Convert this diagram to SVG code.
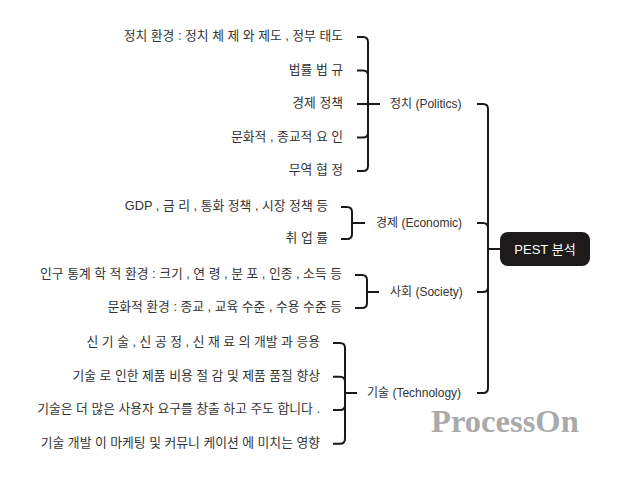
<svg xmlns="http://www.w3.org/2000/svg" width="620" height="482" viewBox="0 0 620 482">
<style>
.t{font-family:"Liberation Sans","Noto Sans CJK KR",sans-serif;font-size:12px;fill:#333;}
.it{text-anchor:end;font-size:12.8px;}
.c{fill:none;stroke:#1a1a1a;stroke-width:2;stroke-linecap:butt;}
.root{font-family:"Liberation Sans","Noto Sans CJK KR",sans-serif;font-size:13px;fill:#fff;text-anchor:middle;}
.wm{font-family:"Liberation Serif",serif;font-weight:bold;font-size:32.6px;fill:#aaaaaa;}
</style>
<rect width="620" height="482" fill="#fff"/>
<g id="connectors">
  <path class="c" d="M477,104 H483 Q488,104 488,109 V249"/>
  <path class="c" d="M477,223 H483 Q488,223 488,228 V249"/>
  <path class="c" d="M477,292 H483 Q488,292 488,287 V249"/>
  <path class="c" d="M477,393 H483 Q488,393 488,388 V249"/>
  <path class="c" d="M488,249 H500"/>
  <path class="c" d="M357,37 H363 Q368,37 368,42 V104"/>
  <path class="c" d="M357,70.5 H363 Q368,70.5 368,75.5 V104"/>
  <path class="c" d="M357,104 H380"/>
  <path class="c" d="M357,137.5 H363 Q368,137.5 368,132.5 V104"/>
  <path class="c" d="M357,171 H363 Q368,171 368,166 V104"/>
  <path class="c" d="M341,207 H347 Q352,207 352,212 V223"/>
  <path class="c" d="M341,239 H347 Q352,239 352,234 V223"/>
  <path class="c" d="M352,223 H365"/>
  <path class="c" d="M355,275 H362 Q367,275 367,280 V292"/>
  <path class="c" d="M355,308 H362 Q367,308 367,303 V292"/>
  <path class="c" d="M367,292 H379"/>
  <path class="c" d="M333,343 H340 Q345,343 345,348 V393"/>
  <path class="c" d="M333,376.7 H340 Q345,376.7 345,381.7 V393"/>
  <path class="c" d="M333,410 H340 Q345,410 345,405 V393"/>
  <path class="c" d="M333,443.7 H340 Q345,443.7 345,438.7 V393"/>
  <path class="c" d="M345,393 H357"/>
</g>
<g id="root">
  <rect x="500" y="232" width="90" height="34" rx="8" fill="#1c1a1a"/>
  <text class="root" x="545" y="253.5">PEST 분석</text>
</g>
<g id="politics">
  <text class="t" x="390" y="108">정치 (Politics)</text>
</g>
<g id="politics-items">
  <text class="t it" x="343" y="40">정치 환경 : 정치 체 제 와 제도 , 정부 태도</text>
  <text class="t it" x="343" y="73.5">법률 법 규</text>
  <text class="t it" x="343" y="107">경제 정책</text>
  <text class="t it" x="343" y="140.5">문화적 , 종교적 요 인</text>
  <text class="t it" x="343" y="174">무역 협 정</text>
</g>
<g id="economic">
  <text class="t" x="376" y="227">경제 (Economic)</text>
</g>
<g id="economic-items">
  <text class="t it" x="328" y="210">GDP , 금 리 , 통화 정책 , 시장 정책 등</text>
  <text class="t it" x="328" y="242">취 업 률</text>
</g>
<g id="society">
  <text class="t" x="390" y="296">사회 (Society)</text>
</g>
<g id="society-items">
  <text class="t it" x="342" y="278">인구 통계 학 적 환경 : 크기 , 연 령 , 분 포 , 인종 , 소득 등</text>
  <text class="t it" x="342" y="311">문화적 환경 : 종교 , 교육 수준 , 수용 수준 등</text>
</g>
<g id="technology">
  <text class="t" x="367" y="397">기술 (Technology)</text>
</g>
<g id="technology-items">
  <text class="t it" x="320" y="346">신 기 술 , 신 공 정 , 신 재 료 의 개발 과 응용</text>
  <text class="t it" x="320" y="379.7">기술 로 인한 제품 비용 절 감 및 제품 품질 향상</text>
  <text class="t it" x="320" y="413">기술은 더 많은 사용자 요구를 창출 하고 주도 합니다 .</text>
  <text class="t it" x="320" y="446.7">기술 개발 이 마케팅 및 커뮤니 케이션 에 미치는 영향</text>
</g>
<text class="wm" x="431" y="432">ProcessOn</text>
</svg>
